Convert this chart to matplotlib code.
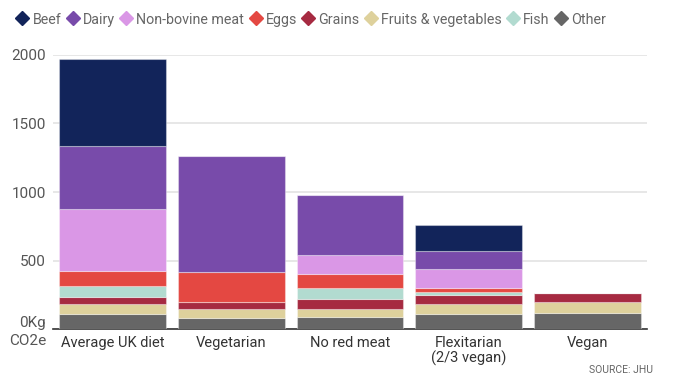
import matplotlib.pyplot as plt
import numpy as np

plt.rcParams['font.family'] = ['Roboto', 'DejaVu Sans']

diets = ["Average UK diet", "Vegetarian", "No red meat", "Flexitarian\n(2/3 vegan)", "Vegan"]

# kg CO2e per year, stacked bottom to top
other = [112, 83, 88, 112, 117]
fruit_veg = [68, 66, 61, 73, 77]
grains = [56, 49, 70, 61, 71]
fish = [80, 0, 78, 24, 0]
eggs = [110, 221, 104, 29, 0]
non_bovine = [447, 0, 141, 137, 0]
dairy = [460, 844, 438, 136, 0]
beef = [635, 0, 0, 189, 0]

series = [
    ("Other", other, "#666666"),
    ("Fruits & vegetables", fruit_veg, "#ded19c"),
    ("Grains", grains, "#a62a41"),
    ("Fish", fish, "#b2dbd0"),
    ("Eggs", eggs, "#e44842"),
    ("Non-bovine meat", non_bovine, "#da97e6"),
    ("Dairy", dairy, "#784baa"),
    ("Beef", beef, "#12245a"),
]
legend_order = ["Beef", "Dairy", "Non-bovine meat", "Eggs", "Grains",
                "Fruits & vegetables", "Fish", "Other"]

fig = plt.figure(figsize=(6.76, 3.92), dpi=100)
ax = fig.add_axes([53 / 676, 1 - 329 / 392, 594 / 676, 274 / 392])

x = np.arange(len(diets))
bottom = np.zeros(len(diets))
colors = {}
for name, vals, col in series:
    vals = np.array(vals, dtype=float)
    ax.bar(x, vals, width=0.9, bottom=bottom, color=col,
           edgecolor=(1, 1, 1, 0.35), linewidth=0.8, zorder=3)
    bottom += vals
    colors[name] = col

ax.set_xlim(-0.5, 4.5)
ax.set_ylim(0, 2000)
ax.set_yticks([0, 500, 1000, 1500, 2000])
ax.set_yticklabels(["0Kg\nCO2e", "500", "1000", "1500", "2000"])
ax.yaxis.grid(True, color="#e3e3e3", linewidth=1.2, zorder=0)
ax.set_axisbelow(True)
ax.tick_params(axis="y", length=0, pad=5, labelsize=11, labelcolor="#555555")
ax.tick_params(axis="x", length=0, pad=5, labelsize=10.5, labelcolor="#333333")
for lab in ax.get_yticklabels():
    lab.set_linespacing(1.35)
ax.set_xticks(x)
ax.set_xticklabels(diets, linespacing=1.1)
for s in ["top", "right", "left"]:
    ax.spines[s].set_visible(False)
ax.spines["bottom"].set_color("#333333")
ax.spines["bottom"].set_linewidth(1.2)

handles = [plt.Line2D([], [], marker="D", linestyle="none", markersize=7.5,
                      color=colors[n]) for n in legend_order]
fig.legend(handles, legend_order, loc="upper left", bbox_to_anchor=(0.01, 0.99),
           ncol=8, frameon=False, handletextpad=0.2, columnspacing=0.3,
           handlelength=1.0, fontsize=10.3, labelcolor="#666666", borderaxespad=0.2)

fig.text(653 / 676, 1 - 370 / 392, "SOURCE: JHU", ha="right", va="center",
         fontsize=7.5, color="#666666")

fig.savefig("out.png", dpi=100)
